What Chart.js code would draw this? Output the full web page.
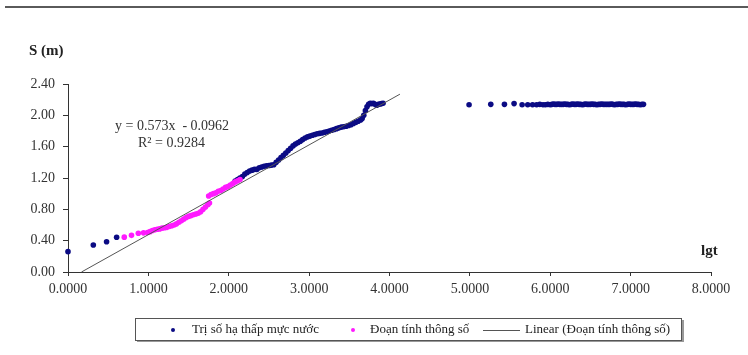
<!DOCTYPE html>
<html>
<head>
<meta charset="utf-8">
<script src="https://cdn.jsdelivr.net/npm/chart.js"></script>
<style>
html,body{margin:0;padding:0;background:#fff;}
#wrap{width:748px;height:355px;position:relative;}
</style>
</head>
<body>
<div id="wrap"><canvas id="c" width="748" height="355"></canvas></div>
<script>
// ---- data ----
const seriesNames = ["Trị số hạ thấp mực nước", "Đoạn tính thông số", "Linear (Đoạn tính thông số)"];

const blueX = [0.00,0.315,0.48,0.605,
 2.08,2.11,2.14,2.17,2.20,2.23,2.26,2.29,2.32,2.35,2.38,2.41,2.44,2.47,2.50,2.53,2.56,2.59,2.62,2.65,2.68,2.71,2.74,2.77,2.80,2.83,2.86,2.89,2.92,2.95,2.98,3.01,3.04,3.07,3.10,3.13,3.16,3.19,3.22,3.25,3.28,3.31,3.34,3.37,3.40,3.43,3.46,3.49,3.52,3.55,3.58,3.61,3.64,3.66,3.68,3.70,3.72,3.74,3.76,3.78,3.80,3.82,3.84,3.86,3.88,3.90,3.92];
const blueY = [0.26,0.345,0.387,0.443,
 1.16,1.18,1.20,1.22,1.25,1.27,1.29,1.30,1.31,1.31,1.33,1.34,1.35,1.355,1.36,1.365,1.37,1.40,1.43,1.46,1.49,1.52,1.55,1.58,1.61,1.635,1.65,1.67,1.69,1.71,1.725,1.735,1.745,1.755,1.765,1.77,1.775,1.785,1.79,1.80,1.81,1.82,1.83,1.84,1.85,1.855,1.86,1.87,1.88,1.895,1.91,1.925,1.94,1.96,2.00,2.06,2.11,2.14,2.155,2.15,2.155,2.14,2.13,2.14,2.145,2.15,2.155];

const flatX = [4.99,5.26,5.43,5.55,5.65,5.72,5.78,5.83,5.87,5.91,5.94,5.97,6.00,6.02,6.04,6.06,6.08,6.10,6.12,6.14,6.16,6.18,6.20,6.22,6.24,6.26,6.28,6.30,6.32,6.34,6.36,6.38,6.40,6.42,6.44,6.46,6.48,6.50,6.52,6.54,6.56,6.58,6.60,6.62,6.64,6.66,6.68,6.70,6.72,6.74,6.76,6.78,6.80,6.82,6.84,6.86,6.88,6.90,6.92,6.94,6.96,6.98,7.00,7.02,7.04,7.06,7.08,7.10,7.12,7.14,7.16];
const flatY = [2.135,2.14,2.14,2.15,2.135,2.135,2.135,2.135,2.14,2.135,2.135,2.14,2.135,2.14,2.145,2.14,2.14,2.145,2.14,2.14,2.14,2.145,2.14,2.14,2.135,2.14,2.145,2.14,2.14,2.145,2.14,2.14,2.135,2.14,2.145,2.14,2.14,2.14,2.145,2.14,2.14,2.135,2.14,2.14,2.145,2.14,2.14,2.14,2.14,2.14,2.145,2.14,2.135,2.14,2.14,2.145,2.14,2.14,2.14,2.135,2.14,2.145,2.14,2.14,2.14,2.145,2.14,2.14,2.135,2.14,2.14];

const pinkX = [0.70,0.79,0.875,0.94,0.99,1.02,1.05,1.08,1.11,1.14,1.17,1.20,1.23,1.26,1.29,1.32,1.35,1.38,1.41,1.44,1.47,1.50,1.53,1.56,1.59,1.62,1.65,1.68,1.71,1.74,1.76,
 1.75,1.78,1.81,1.84,1.87,1.90,1.93,1.96,1.99,2.02,2.05,2.08,2.11,2.14];
const pinkY = [0.445,0.468,0.494,0.50,0.505,0.515,0.53,0.54,0.545,0.55,0.56,0.565,0.57,0.58,0.59,0.60,0.615,0.635,0.655,0.675,0.695,0.71,0.72,0.73,0.74,0.75,0.77,0.80,0.83,0.86,0.88,
 0.97,0.99,1.00,1.01,1.03,1.04,1.06,1.08,1.09,1.11,1.13,1.15,1.165,1.18];

const trendSlope = 0.573;
const trendIntercept = -0.0962;
const trendR2 = 0.9284;
const trendRangeX = [0.168, 4.13];

const xTicks = [0,1,2,3,4,5,6,7,8];
const yTicks = [0,0.4,0.8,1.2,1.6,2.0,2.4];

// ---- build datasets ----
const bluePts = blueX.map((x,i)=>({x:x,y:blueY[i]})).concat(flatX.map((x,i)=>({x:x,y:flatY[i]})));
const pinkPts = pinkX.map((x,i)=>({x:x,y:pinkY[i]}));
const trendPts = trendRangeX.map(x=>({x:x,y:trendSlope*x+trendIntercept}));

const BLUE = '#0b0b84', PINK = '#ff1aff', LINE = '#555555';
const SERIF = '"Liberation Serif","DejaVu Serif",serif';

const extras = {
  id:'extras',
  afterDraw(chart){
    const ctx = chart.ctx;
    ctx.save();
    // top rule
    ctx.fillStyle = '#5a5a5a';
    ctx.fillRect(5,6,743,2);
    // axis titles
    ctx.fillStyle = '#222';
    ctx.font = 'bold 15px ' + SERIF;
    ctx.textBaseline = 'middle';
    ctx.textAlign = 'left';
    ctx.fillText('S (m)', 29, 51);
    ctx.fillText('lgt', 701, 251);
    // equation
    ctx.font = '14px ' + SERIF;
    ctx.fillStyle = '#333';
    ctx.fillText('y = ' + trendSlope.toFixed(3) + 'x  - ' + Math.abs(trendIntercept).toFixed(4), 115, 126);
    ctx.fillText('R² = ' + trendR2.toFixed(4), 138, 143);
    // legend box
    ctx.strokeStyle = '#555';
    ctx.lineWidth = 1;
    ctx.strokeRect(135.5,318.5,546,22);
    ctx.fillStyle = '#999';
    ctx.fillRect(682,320,2,22);
    ctx.fillRect(137,341,547,1);
    ctx.font = '13px ' + SERIF;
    const ly = 330;
    ctx.beginPath(); ctx.fillStyle = BLUE; ctx.arc(173,ly,2,0,Math.PI*2); ctx.fill();
    ctx.fillStyle = '#222'; ctx.fillText(seriesNames[0], 192, ly);
    ctx.beginPath(); ctx.fillStyle = PINK; ctx.arc(353,ly,2,0,Math.PI*2); ctx.fill();
    ctx.fillStyle = '#222'; ctx.fillText(seriesNames[1], 370, ly);
    ctx.strokeStyle = LINE; ctx.beginPath(); ctx.moveTo(483,ly+0.5); ctx.lineTo(520,ly+0.5); ctx.stroke();
    ctx.fillStyle = '#222'; ctx.fillText(seriesNames[2], 525, ly);
    ctx.restore();
  }
};

new Chart(document.getElementById('c'), {
  type:'scatter',
  data:{
    datasets:[
      {label:seriesNames[0], data:bluePts, backgroundColor:BLUE, borderColor:BLUE, pointRadius:2.8, pointBorderWidth:0, order:2, clip:false},
      {label:seriesNames[1], data:pinkPts, backgroundColor:PINK, borderColor:PINK, pointRadius:2.8, pointBorderWidth:0, order:1, clip:false},
      {label:seriesNames[2], type:'line', data:trendPts, borderColor:LINE, borderWidth:1, pointRadius:0, fill:false, showLine:true, order:0}
    ]
  },
  options:{
    responsive:false,
    animation:false,
    layout:{padding:{left:0,right:37,top:84,bottom:0}},
    plugins:{legend:{display:false}, tooltip:{enabled:false}},
    scales:{
      x:{
        type:'linear', min:0, max:8,
        afterBuildTicks(s){ s.ticks = xTicks.map(v=>({value:v})); },
        afterFit(s){ s.height = 83; },
        grid:{display:true, drawOnChartArea:false, drawTicks:true, tickLength:4, color:'#333'},
        border:{display:true, color:'#333', width:1},
        ticks:{font:{family:SERIF,size:14}, color:'#333', padding:5, maxRotation:0, callback:v=>Number(v).toFixed(4)}
      },
      y:{
        type:'linear', min:0, max:2.4,
        afterBuildTicks(s){ s.ticks = yTicks.map(v=>({value:v})); },
        afterFit(s){ s.width = 68; },
        grid:{display:true, drawOnChartArea:false, drawTicks:true, tickLength:5, color:'#333'},
        border:{display:true, color:'#333', width:1},
        ticks:{font:{family:SERIF,size:14}, color:'#333', padding:8, callback:v=>Number(v).toFixed(2)}
      }
    }
  },
  plugins:[extras]
});
</script>
</body>
</html>
